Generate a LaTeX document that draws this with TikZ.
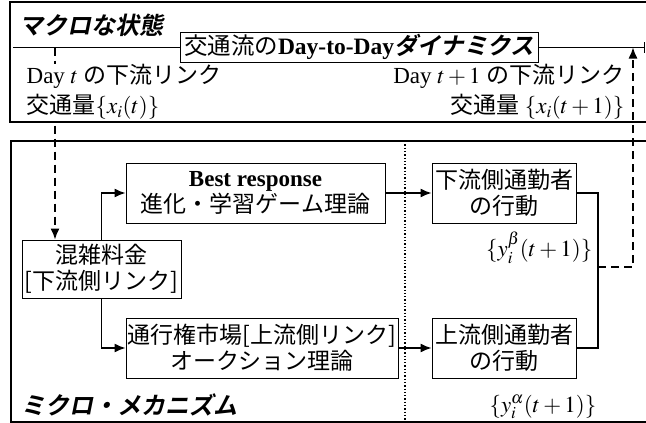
\documentclass[tikz,border=0pt]{standalone}
\usepackage{mathptmx}
\usepackage[no-math]{fontspec}
\setmainfont{Liberation Serif}
\newfontfamily\jpsans{Noto Sans CJK JP}
\newfontfamily\jpbold[FakeSlant=0.2]{Noto Sans CJK JP Bold}
\usetikzlibrary{arrows.meta}
\tikzset{
	box/.style={draw, line width=1pt, fill=white, align=center, inner sep=1pt, font=\fontsize{23}{26}\selectfont},
	lbl/.style={inner sep=1pt, font=\fontsize{23}{30}\selectfont},
	ttl/.style={inner sep=0pt, font=\fontsize{24}{26}\selectfont\jpbold}
}

\begin{document}
\begin{tikzpicture}[x=1pt, y=-1pt, line width=1.3pt, >={Latex[length=11pt,width=9pt]}]
	\useasboundingbox (0,0) rectangle (646,423);
	\clip (0,0) rectangle (646,423);
	% two frames, cut by the page edge
	\draw[black, line width=1.8pt] (10,2) rectangle (700,122);
	\draw[black, line width=1.8pt] (11,141) rectangle (700,422);
	\draw[black, dotted, line width=1.3pt] (405,141)--(405,430);
	% macro part
	\coordinate (lt) at (55,47.5);
	\coordinate (rt) at (633,47.5);
	\draw[black, -{Bar[width=11pt]}] (13,47.5)--(645,47.5);
	\node[box, font=\fontsize{23.5}{26}\selectfont, minimum width=358pt, minimum height=30pt] (dyn) at (359,47)
		{{\jpsans 交通流の}{\bfseries Day-to-Day}{\jpbold ダイナミクス}};
	\node[ttl, anchor=west] (macro) at (19,25) {マクロな状態};
	% micro part
	\node[box, minimum width=159pt, minimum height=58pt] (toll) at (101.5,269) {{\jpsans 混雑料金}\\{\jpsans [下流側リンク]}};
	\node[box, minimum width=259pt, minimum height=60pt] (best) at (255.5,193) {{\bfseries Best response}\\{\jpsans 進化・学習ゲーム理論}};
	\node[box, minimum width=272pt, minimum height=60pt] (auct) at (262,348) {{\jpsans 通行権市場[上流側リンク]}\\{\jpsans オークション理論}};
	\node[box, minimum width=144pt, minimum height=60pt] (down) at (504,193) {{\jpsans 下流側通勤者}\\{\jpsans の行動}};
	\node[box, minimum width=144pt, minimum height=60pt] (up) at (504,348) {{\jpsans 上流側通勤者}\\{\jpsans の行動}};
	\node[ttl, anchor=west] (micro) at (21,405) {ミクロ・メカニズム};
	\node[lbl, anchor=east] (ybeta) at (594,248) {$\{y_i^{\beta}(t+1)\}$};
	\node[lbl, anchor=east] (yalpha) at (598,407) {$\{y_i^{\alpha}(t+1)\}$};
	% connectors
	\draw[black, ->] (toll.north)|-(best.west);
	\draw[black, ->] (toll.south)|-(auct.west);
	\draw[black, ->] (best.east)--(down.west);
	\draw[black, ->] (auct.east)--(up.west);
	\draw[black] (down.east)-|(598,268)|-(up.east);
	\coordinate (join) at (598,267);
	\draw[black, dashed, dash pattern=on 8pt off 5pt, ->] (join)-|(rt);
	\draw[black, dashed, dash pattern=on 8pt off 5pt, ->] (lt)--(lt|-toll.north);
	% link flows, on top of the dashed line
	\node[lbl, fill=white, anchor=north west, align=left] (dayt) at (25,63)
		{Day $t$ {\jpsans の下流リンク}\\{\jpsans 交通量}$\{x_i(t)\}$};
	\node[lbl, anchor=north east, align=right] (daytt) at (626,63)
		{Day $t+1$ {\jpsans の下流リンク}\\{\jpsans 交通量} $\{x_i(t+1)\}$};
\end{tikzpicture}
\end{document}
